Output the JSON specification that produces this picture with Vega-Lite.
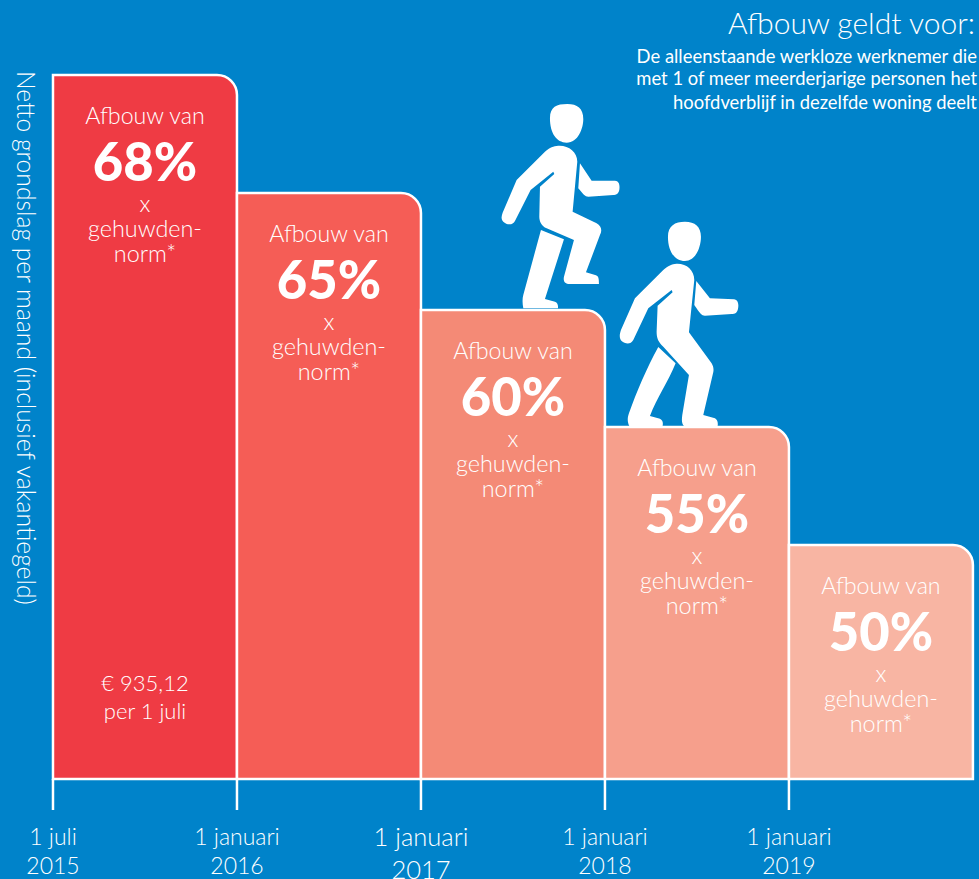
{"$schema":"https://vega.github.io/schema/vega-lite/v6.json","width":979,"height":879,"padding":0,"autosize":{"type":"none"},"background":"#0083CA","config":{"view":{"stroke":null},"text":{"font":"Lato","color":"#ffffff","fontWeight":300}},
"datasets":{"steps":[
{"period":"2015","start":0,"end":1,"mid":0.5,"height":704,"pct":"68%","line1":"1 juli","line2":"2015"},
{"period":"2016","start":1,"end":2,"mid":1.5,"height":586,"pct":"65%","line1":"1 januari","line2":"2016"},
{"period":"2017","start":2,"end":3,"mid":2.5,"height":469,"pct":"60%","line1":"1 januari","line2":"2017"},
{"period":"2018","start":3,"end":4,"mid":3.5,"height":352,"pct":"55%","line1":"1 januari","line2":"2018"},
{"period":"2019","start":4,"end":5,"mid":4.5,"height":234,"pct":"50%","line1":"1 januari","line2":"2019"}]},
"data":{"name":"steps"},
"encoding":{"x":{"field":"mid","type":"quantitative","scale":{"domain":[-0.288,5.033],"nice":false,"zero":false},"axis":null},"y":{"field":"height","type":"quantitative","scale":{"domain":[-100,779],"nice":false,"zero":false},"axis":null}},
"layer":[
{"mark":{"type":"bar","stroke":"#ffffff","strokeWidth":2.5,"cornerRadiusTopRight":20},"encoding":{"x":{"field":"start","type":"quantitative"},"x2":{"field":"end"},"y":{"field":"height","type":"quantitative"},"y2":{"datum":0},"color":{"field":"period","type":"nominal","legend":null,"scale":{"domain":["2015","2016","2017","2018","2019"],"range":["#EF3B44","#F55D56","#F48A76","#F69F8C","#F8B5A3"]}}}},
{"mark":{"type":"rule","stroke":"#ffffff","strokeWidth":2.5},"encoding":{"x":{"field":"start","type":"quantitative"},"y":{"datum":0},"y2":{"datum":-31}}},
{"mark":{"type":"text","align":"center","baseline":"middle","fontSize":23.2,"dy":42},"encoding":{"text":{"value":"Afbouw van"}}},
{"mark":{"type":"text","align":"center","baseline":"middle","fontSize":52.5,"fontWeight":900,"dy":90},"encoding":{"text":{"field":"pct"}}},
{"mark":{"type":"text","align":"center","baseline":"middle","fontSize":23.2,"dy":130},"encoding":{"text":{"value":"x"}}},
{"mark":{"type":"text","align":"center","baseline":"middle","fontSize":23.4,"dy":155},"encoding":{"text":{"value":"gehuwden-"}}},
{"mark":{"type":"text","align":"center","baseline":"middle","fontSize":23.4,"dy":180},"encoding":{"text":{"value":"norm*"}}},
{"mark":{"type":"text","align":"center","baseline":"middle","dy":59},"encoding":{"x":{"field":"start","type":"quantitative"},"y":{"datum":0},"text":{"field":"line1"},"size":{"condition":{"test":"datum.start==2","value":25.5},"value":23}}},
{"transform":[{"filter":"datum.start!=2"}],"mark":{"type":"text","align":"center","baseline":"middle","fontSize":23,"dy":88},"encoding":{"x":{"field":"start","type":"quantitative"},"y":{"datum":0},"text":{"field":"line2"}}},
{"transform":[{"filter":"datum.start==2"}],"mark":{"type":"text","align":"center","baseline":"middle","fontSize":25.5,"dy":92},"encoding":{"x":{"field":"start","type":"quantitative"},"y":{"datum":0},"text":{"field":"line2"}}},
{"data":{"values":[{"x":0.5,"y":95,"t":"€ 935,12"},{"x":0.5,"y":67,"t":"per 1 juli"}]},"mark":{"type":"text","align":"center","baseline":"middle","fontSize":22},"encoding":{"x":{"field":"x","type":"quantitative"},"y":{"field":"y","type":"quantitative"},"text":{"field":"t"}}},
{"data":{"values":[{"x":5.011,"y":754,"t":"Afbouw geldt voor:"}]},"mark":{"type":"text","align":"right","baseline":"middle","fontSize":30},"encoding":{"x":{"field":"x","type":"quantitative"},"y":{"field":"y","type":"quantitative"},"text":{"field":"t"}}},
{"data":{"values":[{"x":5.022,"y":722,"t":"De alleenstaande werkloze werknemer die"},{"x":5.022,"y":700,"t":"met 1 of meer meerderjarige personen het"},{"x":5.022,"y":676,"t":"hoofdverblijf in dezelfde woning deelt"}]},"mark":{"type":"text","align":"right","baseline":"middle","fontSize":18.4,"fontWeight":400},"encoding":{"x":{"field":"x","type":"quantitative"},"y":{"field":"y","type":"quantitative"},"text":{"field":"t"}}},
{"data":{"values":[{"x":-0.158,"y":441,"t":"Netto grondslag per maand (inclusief vakantiegeld)"}]},"mark":{"type":"text","align":"center","baseline":"middle","fontSize":24.7,"angle":90},"encoding":{"x":{"field":"x","type":"quantitative"},"y":{"field":"y","type":"quantitative"},"text":{"field":"t"}}},
{"transform":[{"filter":"datum.start==2"}],"mark":{"type":"point","filled":true,"opacity":1,"color":"#ffffff","strokeWidth":0,"size":0.4444,"shape":"M111 -575 C111 -610 131 -618 163 -618 C193 -618 211 -605 211 -573 C211 -545 196 -502 161 -502 C131 -502 111 -530 111 -575 Z M136 -493 C166 -495 193 -475 193 -445 L179 -295 L251 -260 C266 -252 268 -237 261 -225 L219 -113 L249 -104 C257 -101 258 -93 258 -78 L166 -78 C153 -80 151 -90 153 -100 L183 -210 L101 -245 C86 -252 79 -265 79 -280 L81 -370 L124 -408 L121 -415 L53 -360 L6 -267 C-1 -253 -19 -255 -29 -265 C-36 -272 -35 -280 -31 -292 L11 -390 L96 -475 C111 -488 121 -492 136 -493 Z M84 -240 L153 -212 L96 -33 L126 -25 C134 -22 136 -15 135 -5 L31 -5 C28 -20 28 -35 31 -45 Z M201 -440 L236 -388 L306 -388 C319 -387 321 -375 319 -360 C316 -347 309 -345 301 -345 L226 -340 C216 -340 211 -347 196 -365 Z"}},
{"transform":[{"filter":"datum.start==3"}],"mark":{"type":"point","filled":true,"opacity":1,"color":"#ffffff","strokeWidth":0,"size":0.4444,"shape":"M-87 -571 C-87 -604 -66 -616 -36 -616 C-6 -616 12 -601 12 -571 C12 -541 -3 -498 -36 -498 C-66 -498 -87 -526 -87 -571 Z M-61 -490 C-31 -491 -8 -471 -8 -441 L-24 -284 L44 -191 C51 -178 51 -171 47 -156 L19 -36 L54 -26 C61 -21 64 -14 62 -3 L-39 -3 C-46 -11 -46 -21 -44 -36 L-24 -156 L-101 -241 C-116 -256 -121 -266 -121 -286 L-118 -364 L-73 -404 L-76 -411 L-146 -356 L-191 -261 C-199 -246 -216 -249 -226 -258 C-233 -266 -233 -276 -228 -291 L-186 -386 L-101 -471 C-86 -484 -76 -489 -61 -490 Z M-116 -240 L-64 -191 C-86 -136 -121 -86 -141 -33 L-111 -25 C-103 -21 -101 -14 -103 -3 L-203 -3 C-209 -16 -209 -26 -204 -41 C-181 -106 -151 -176 -116 -240 Z M-2 -438 L39 -386 L111 -383 C124 -381 126 -368 123 -354 C121 -343 114 -339 104 -339 L24 -334 C14 -334 9 -341 -8 -366 Z"}}
]}
